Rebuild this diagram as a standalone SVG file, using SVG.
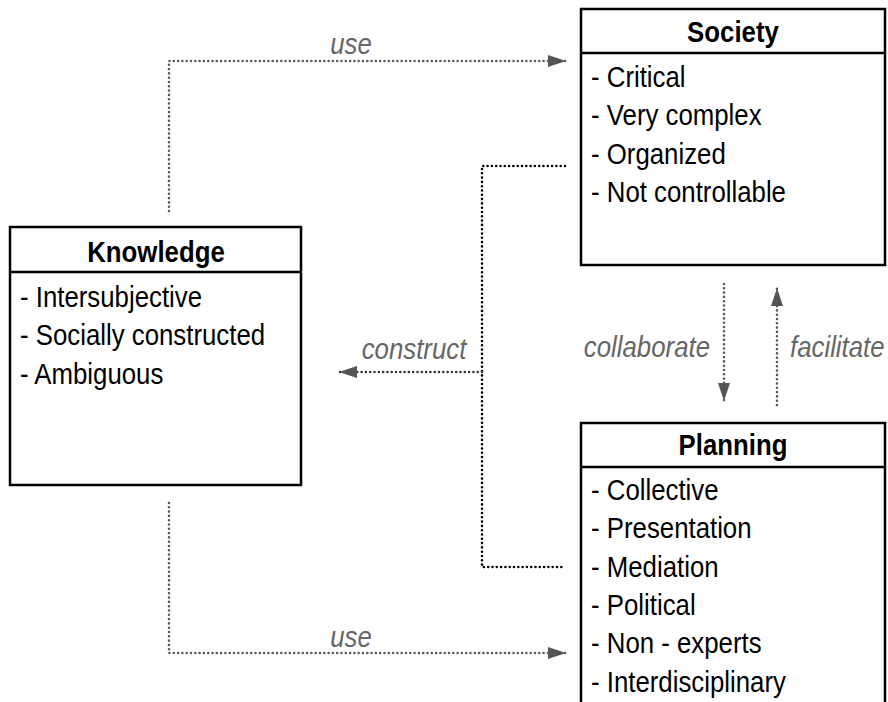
<svg xmlns="http://www.w3.org/2000/svg" width="888" height="702" viewBox="0 0 888 702">
<defs>
<style>
.box{fill:#fff;stroke:#000;stroke-width:2.5}
.div{stroke:#000;stroke-width:2.5}
.t{font-family:"Liberation Sans",Arial,sans-serif;font-size:30px;fill:#000}
.h{font-weight:bold;text-anchor:middle}
.lbl{font-family:"Liberation Sans",Arial,sans-serif;font-size:30px;font-style:italic;fill:#666}
.dg{fill:none;stroke:#5a5a5a;stroke-width:2.6;stroke-linecap:round;stroke-dasharray:0 4.3}
.dk{fill:none;stroke:#000;stroke-width:2.6;stroke-linecap:round;stroke-dasharray:0 4.3}
</style>
<marker id="ah" markerUnits="userSpaceOnUse" markerWidth="18" markerHeight="12" refX="18" refY="6" orient="auto">
<path d="M0,0 L18,6 L0,12 z" fill="#555"/>
</marker>
</defs>
<rect width="888" height="702" fill="#fff"/>
<g id="connectors">
<path class="dg" d="M169,211 V61 H566" marker-end="url(#ah)"/>
<text class="lbl" text-anchor="middle" transform="translate(351,54) scale(0.86,1)">use</text>
<path class="dg" d="M169,503 V653 H566" marker-end="url(#ah)"/>
<text class="lbl" text-anchor="middle" transform="translate(351,647) scale(0.86,1)">use</text>
<path class="dk" d="M565,166 H482 V567 H564"/>
<path class="dg" style="stroke:#333" d="M482,372 H339" marker-end="url(#ah)"/>
<text class="lbl" text-anchor="middle" transform="translate(414,359) scale(0.86,1)">construct</text>
<path class="dg" d="M724,284 V401" marker-end="url(#ah)"/>
<text class="lbl" text-anchor="end" transform="translate(710,357) scale(0.86,1)">collaborate</text>
<path class="dg" d="M777,405 V288" marker-end="url(#ah)"/>
<text class="lbl" transform="translate(790,357) scale(0.86,1)">facilitate</text>
</g>
<g id="society">
<rect class="box" x="581" y="9" width="304" height="256"/>
<line class="div" x1="581" y1="53" x2="885" y2="53"/>
<text class="t h" transform="translate(733,41.5) scale(0.86,1)">Society</text>
<text class="t" transform="translate(591,87) scale(0.86,1)">- Critical</text>
<text class="t" transform="translate(591,125.3) scale(0.86,1)">- Very complex</text>
<text class="t" transform="translate(591,163.6) scale(0.86,1)">- Organized</text>
<text class="t" transform="translate(591,202) scale(0.86,1)">- Not controllable</text>
</g>
<g id="knowledge">
<rect class="box" x="10" y="227" width="291" height="258"/>
<line class="div" x1="10" y1="272" x2="301" y2="272"/>
<text class="t h" transform="translate(156,262) scale(0.86,1)">Knowledge</text>
<text class="t" transform="translate(20,307) scale(0.86,1)">- Intersubjective</text>
<text class="t" transform="translate(20,345.3) scale(0.86,1)">- Socially constructed</text>
<text class="t" transform="translate(20,383.6) scale(0.86,1)">- Ambiguous</text>
</g>
<g id="planning">
<rect class="box" x="581" y="423" width="304" height="300"/>
<line class="div" x1="581" y1="467" x2="885" y2="467"/>
<text class="t h" transform="translate(733,455) scale(0.86,1)">Planning</text>
<text class="t" transform="translate(591,500) scale(0.86,1)">- Collective</text>
<text class="t" transform="translate(591,538.3) scale(0.86,1)">- Presentation</text>
<text class="t" transform="translate(591,576.6) scale(0.86,1)">- Mediation</text>
<text class="t" transform="translate(591,615) scale(0.86,1)">- Political</text>
<text class="t" transform="translate(591,653.3) scale(0.86,1)">- Non - experts</text>
<text class="t" transform="translate(591,691.6) scale(0.86,1)">- Interdisciplinary</text>
</g>
</svg>
